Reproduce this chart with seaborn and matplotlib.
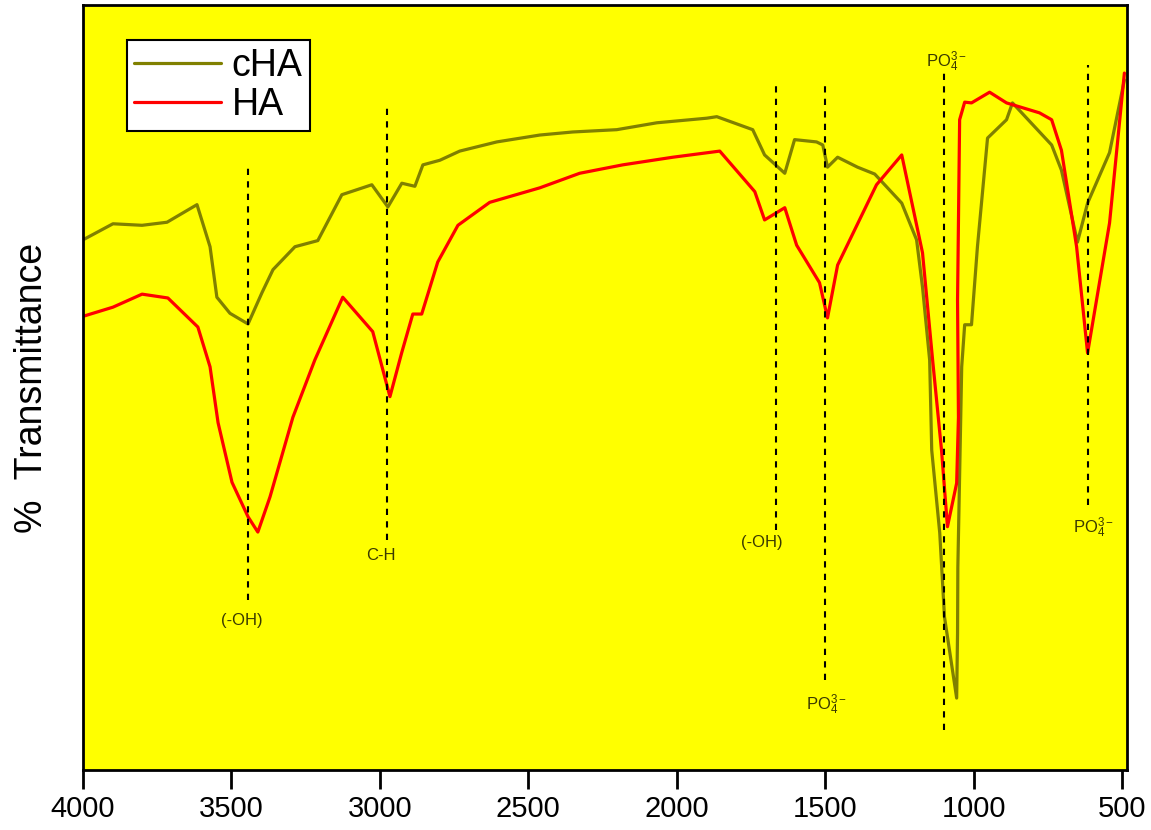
import matplotlib
matplotlib.use("Agg")
import matplotlib.pyplot as plt
import seaborn as sns
import pandas as pd

# ---- data (wavenumber cm^-1, transmittance in arbitrary %) ----
cha_wn = [4000, 3899, 3801, 3717, 3616, 3572, 3549, 3505, 3444, 3397, 3360, 3286, 3209,
          3128, 3027, 2973, 2926, 2882, 2855, 2798, 2731, 2606, 2461, 2350, 2202, 2067,
          1899, 1865, 1744, 1704, 1636, 1603, 1529, 1508, 1492, 1458, 1391, 1333, 1242,
          1192, 1172, 1148, 1141, 1114, 1098, 1057, 1054, 1053, 1040, 1030, 1007, 987,
          953, 889, 869, 737, 704, 650, 616, 542, 492]
cha_t = [69.3, 71.4, 71.2, 71.6, 73.9, 68.4, 61.8, 59.7, 58.3, 62.4, 65.4, 68.4, 69.2,
         75.2, 76.5, 73.6, 76.7, 76.3, 79.1, 79.7, 80.9, 82.1, 83.0, 83.4, 83.7, 84.6,
         85.2, 85.4, 83.7, 80.4, 78.0, 82.4, 82.1, 81.7, 78.8, 80.1, 78.8, 77.9, 74.1,
         69.3, 63.1, 53.6, 41.8, 31.0, 20.0, 9.4, 17.9, 26.5, 52.7, 58.2, 58.2, 68.4,
         82.6, 85.0, 87.2, 81.7, 78.4, 69.0, 74.1, 80.7, 90.2]

ha_wn = [4000, 3899, 3801, 3714, 3613, 3572, 3545, 3498, 3444, 3411, 3370, 3293, 3219,
         3125, 3024, 2966, 2926, 2889, 2859, 2805, 2737, 2630, 2461, 2327, 2182, 2013,
         1855, 1737, 1704, 1636, 1596, 1519, 1492, 1458, 1327, 1242, 1172, 1138, 1108,
         1088, 1057, 1051, 1054, 1047, 1030, 1007, 946, 889, 778, 737, 704, 653, 616,
         542, 492]
ha_t = [59.3, 60.5, 62.2, 61.7, 57.9, 52.7, 45.4, 37.6, 33.1, 31.1, 35.7, 46.1, 53.6,
        61.8, 57.3, 48.8, 54.6, 59.6, 59.6, 66.4, 71.2, 74.2, 76.1, 78.0, 79.1, 80.1,
        80.9, 75.6, 71.9, 73.5, 68.6, 63.7, 59.1, 66.0, 76.5, 80.4, 67.6, 53.6, 41.8,
        31.8, 37.5, 46.1, 61.4, 85.0, 87.3, 87.2, 88.6, 87.2, 85.9, 85.0, 81.0, 68.4,
        54.5, 71.5, 91.1]

# peak markers: position, top, bottom
mark_wn = [3444, 2976, 1667, 1502, 1098, 613]
mark_top = [79.3, 86.9, 89.8, 90.2, 91.5, 92.2]
mark_bot = [22.2, 30.1, 31.4, 11.8, 5.2, 34.6]

# annotation labels
label_txt = ["(-OH)", "C-H", "(-OH)", r"PO$_4^{3-}$", r"PO$_4^{3-}$", r"PO$_4^{3-}$"]
label_wn = [3464, 2997, 1714, 1496, 1090, 596]
label_t = [19.6, 28.0, 29.7, 8.5, 92.6, 31.6]

x_ticks = [4000, 3500, 3000, 2500, 2000, 1500, 1000, 500]

sns.set_style("ticks")
plt.rcParams['font.family'] = ['Liberation Sans', 'DejaVu Sans']
plt.rcParams['mathtext.fontset'] = 'custom'
plt.rcParams['mathtext.rm'] = 'Liberation Sans'
plt.rcParams['mathtext.it'] = 'Liberation Sans'
plt.rcParams['text.color'] = 'black'
plt.rcParams['axes.labelcolor'] = 'black'

fig = plt.figure(figsize=(11.51, 8.30), dpi=100)
ax = fig.add_axes([0.0721, 0.0723, 0.9071, 0.9217])
ax.set_facecolor('#ffff00')

df_cha = pd.DataFrame({"wn": cha_wn, "t": cha_t})
df_ha = pd.DataFrame({"wn": ha_wn, "t": ha_t})
sns.lineplot(data=df_cha, x="wn", y="t", sort=False, estimator=None, ax=ax,
             color='#808000', lw=2.3, label='cHA')
sns.lineplot(data=df_ha, x="wn", y="t", sort=False, estimator=None, ax=ax,
             color='#ff0000', lw=2.3, label='HA')

for w, t0, t1 in zip(mark_wn, mark_top, mark_bot):
    ax.plot([w, w], [t1, t0], color='black', lw=1.5, ls=(0, (3, 3)))

for s, w, t in zip(label_txt, label_wn, label_t):
    ax.text(w, t, s, ha='center', va='center', fontsize=12, color='#3a3a00')

ax.set_xlim(4000, 483)
ax.set_ylim(0, 100)
ax.set_xticks(x_ticks)
ax.set_xticklabels([str(v) for v in x_ticks], fontsize=21)
ax.set_yticks([])
ax.set_xlabel('')
ax.set_ylabel('%  Transmittance', fontsize=27, labelpad=24)
ax.tick_params(axis='x', direction='out', length=14, width=2, pad=4, colors='black')
for sp in ax.spines.values():
    sp.set_visible(True)
    sp.set_color('black')
    sp.set_linewidth(2)

leg = ax.legend(loc='upper left', bbox_to_anchor=(0.042, 0.954), borderaxespad=0,
                fontsize=27, handlelength=2.3, handletextpad=0.3, borderpad=0.2,
                labelspacing=0.1, frameon=True, fancybox=False, framealpha=1)
leg.get_frame().set_edgecolor('black')
leg.get_frame().set_linewidth(1.5)

fig.savefig('out.png', dpi=100, facecolor='white')
